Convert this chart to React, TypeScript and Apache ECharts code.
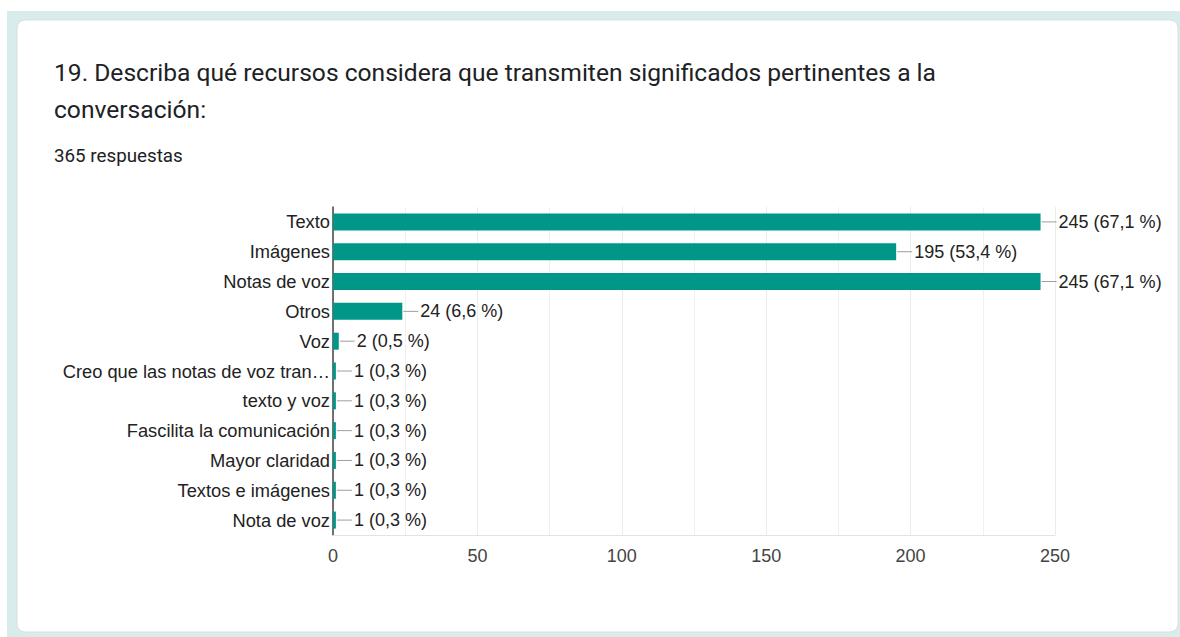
import React, { useEffect, useRef } from "react";
import * as echarts from "echarts";

const titleLine1 = "19. Describa qué recursos considera que transmiten significados pertinentes a la";
const titleLine2 = "conversación:";
const responsesText = "365 respuestas";
const totalResponses = 365;

const categories = [
  "Texto",
  "Imágenes",
  "Notas de voz",
  "Otros",
  "Voz",
  "Creo que las notas de voz tran…",
  "texto y voz",
  "Fascilita la comunicación",
  "Mayor claridad",
  "Textos e imágenes",
  "Nota de voz",
];
const counts = [245, 195, 245, 24, 2, 1, 1, 1, 1, 1, 1];
const xMin = 0;
const xMax = 250;
const xInterval = 50;

const BAR_COLOR = "#009688";
const LABEL_FONT = "'Liberation Sans', Arial, sans-serif";
const TITLE_FONT = "Roboto, 'Noto Sans', sans-serif";

function pctLabel(v: number): string {
  const p = ((v / totalResponses) * 100).toFixed(1).replace(".", ",");
  return `${v} (${p} %)`;
}

export default function App() {
  const ref = useRef<HTMLDivElement>(null);
  useEffect(() => {
    if (!ref.current) return;
    const chart = echarts.init(ref.current, null, { renderer: "svg" });
    chart.setOption({
      animation: false,
      backgroundColor: "#ffffff",
      graphic: [
        {
          type: "rect",
          z: -10,
          silent: true,
          shape: { x: 7, y: 11, width: 1200, height: 700 },
          style: { fill: "#d8edeb" },
        },
        {
          type: "rect",
          z: -9,
          silent: true,
          shape: { x: 17, y: 20, width: 1161, height: 612, r: 8 },
          style: {
            fill: "#ffffff",
            stroke: "#d9dde0",
            lineWidth: 1,
          },
        },
        {
          type: "text",
          x: 54,
          y: 72,
          style: {
            text: titleLine1,
            fill: "#202124",
            font: `400 24.6px ${TITLE_FONT}`,
            verticalAlign: "middle",
            align: "left",
          },
        },
        {
          type: "text",
          x: 54,
          y: 109,
          style: {
            text: titleLine2,
            fill: "#202124",
            font: `400 24.6px ${TITLE_FONT}`,
            verticalAlign: "middle",
            align: "left",
          },
        },
        {
          type: "text",
          x: 54,
          y: 156,
          style: {
            text: responsesText,
            fill: "#202124",
            font: `400 18.8px ${TITLE_FONT}`,
            verticalAlign: "middle",
            align: "left",
          },
        },
      ],
      grid: { left: 333, right: 125, top: 207, bottom: 102, containLabel: false },
      xAxis: {
        type: "value",
        min: xMin,
        max: xMax,
        interval: xInterval,
        axisLine: { show: true, lineStyle: { color: "#e3e3e3", width: 1 } },
        axisTick: { show: false },
        axisLabel: {
          color: "#444444",
          fontFamily: LABEL_FONT,
          fontSize: 18,
          margin: 12,
        },
        splitLine: { show: true, lineStyle: { color: "#ebebeb", width: 1 } },
        minorTick: { show: false, splitNumber: 2 },
        minorSplitLine: { show: true, lineStyle: { color: "#f0f0f0", width: 1 } },
      },
      yAxis: {
        type: "category",
        data: categories,
        inverse: true,
        axisLine: { show: true, lineStyle: { color: "#444444", width: 1.5 } },
        axisTick: { show: false },
        axisLabel: {
          color: "#222222",
          fontFamily: LABEL_FONT,
          fontSize: 18.3,
          margin: 3,
        },
        splitLine: { show: false },
      },
      series: [
        {
          type: "bar",
          data: counts,
          barWidth: 17,
          itemStyle: { color: BAR_COLOR },
          z: 2,
        },
        {
          type: "custom",
          z: 3,
          data: counts.map((v, i) => [v, i]),
          encode: { x: 0, y: 1 },
          renderItem: (params: any, api: any) => {
            const v = api.value(0);
            const i = api.value(1);
            const pt = api.coord([v, i]);
            const x0 = pt[0] + 1;
            const y0 = pt[1];
            return {
              type: "group",
              children: [
                {
                  type: "line",
                  shape: { x1: x0, y1: y0, x2: x0 + 15, y2: y0 },
                  style: { stroke: "#9e9e9e", lineWidth: 1 },
                },
                {
                  type: "text",
                  x: x0 + 17,
                  y: y0,
                  style: {
                    text: pctLabel(v),
                    fill: "#222222",
                    font: `18px ${LABEL_FONT}`,
                    verticalAlign: "middle",
                    align: "left",
                  },
                },
              ],
            };
          },
        },
      ],
    });
    return () => chart.dispose();
  }, []);
  return (
    <div
      ref={ref}
      style={{ position: "fixed", left: 0, top: 0, width: 1180, height: 637 }}
    />
  );
}
